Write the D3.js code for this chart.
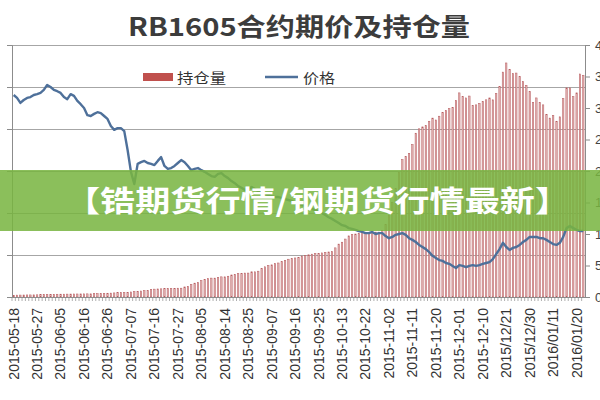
<!DOCTYPE html>
<html>
<head>
<meta charset="utf-8">
<script src="https://cdn.jsdelivr.net/npm/d3@7"></script>
<style>
  html, body { margin: 0; padding: 0; background: #fff; }
  svg { display: block; }
</style>
</head>
<body>
<svg id="chart" width="600" height="400"></svg>
<script>
const titleText = "RB1605合约期价及持仓量";
const bannerText = "【锆期货行情/钢期货行情最新】";
const seriesNames = ["持仓量", "价格"];

const dates = [
"2015-05-18","2015-05-19","2015-05-20","2015-05-21","2015-05-22","2015-05-25","2015-05-26","2015-05-27","2015-05-28","2015-05-29",
"2015-06-01","2015-06-02","2015-06-03","2015-06-04","2015-06-05","2015-06-08","2015-06-09","2015-06-10","2015-06-11","2015-06-12",
"2015-06-15","2015-06-16","2015-06-17","2015-06-18","2015-06-19","2015-06-23","2015-06-24","2015-06-25","2015-06-26","2015-06-29","2015-06-30",
"2015-07-01","2015-07-02","2015-07-03","2015-07-06","2015-07-07","2015-07-08","2015-07-09","2015-07-10","2015-07-13","2015-07-14",
"2015-07-15","2015-07-16","2015-07-17","2015-07-20","2015-07-21","2015-07-22","2015-07-23","2015-07-24","2015-07-27","2015-07-28",
"2015-07-29","2015-07-30","2015-07-31",
"2015-08-03","2015-08-04","2015-08-05","2015-08-06","2015-08-07","2015-08-10","2015-08-11","2015-08-12","2015-08-13","2015-08-14",
"2015-08-17","2015-08-18","2015-08-19","2015-08-20","2015-08-21","2015-08-24","2015-08-25","2015-08-26","2015-08-27","2015-08-28","2015-08-31",
"2015-09-01","2015-09-02","2015-09-07","2015-09-08","2015-09-09","2015-09-10","2015-09-11","2015-09-14","2015-09-15","2015-09-16",
"2015-09-17","2015-09-18","2015-09-21","2015-09-22","2015-09-23","2015-09-24","2015-09-25","2015-09-28","2015-09-29","2015-09-30",
"2015-10-08","2015-10-09","2015-10-12","2015-10-13","2015-10-14","2015-10-15","2015-10-16","2015-10-19","2015-10-20","2015-10-21",
"2015-10-22","2015-10-23","2015-10-26","2015-10-27","2015-10-28","2015-10-29","2015-10-30",
"2015-11-02","2015-11-03","2015-11-04","2015-11-05","2015-11-06","2015-11-09","2015-11-10","2015-11-11","2015-11-12","2015-11-13",
"2015-11-16","2015-11-17","2015-11-18","2015-11-19","2015-11-20","2015-11-23","2015-11-24","2015-11-25","2015-11-26","2015-11-27","2015-11-30",
"2015-12-01","2015-12-02","2015-12-03","2015-12-04","2015-12-07","2015-12-08","2015-12-09","2015-12-10","2015-12-11","2015-12-14",
"2015-12-15","2015-12-16","2015-12-17","2015-12-18",
"2015/12/21","2015/12/22","2015/12/23","2015/12/24","2015/12/25","2015/12/28","2015/12/29","2015/12/30","2015/12/31",
"2016/01/04","2016/01/05","2016/01/06","2016/01/07","2016/01/08","2016/01/11","2016/01/12","2016/01/13","2016/01/14","2016/01/15",
"2016/01/18","2016/01/19","2016/01/20","2016/01/21","2016/01/22"
];

const price = [
2081,2074,2062,2069,2074,2076,2081,2083,2086,2093,
2105,2100,2093,2090,2086,2076,2071,2083,2079,2067,
2059,2050,2033,2031,2036,2040,2038,2031,2024,2007,
1998,2002,2002,1995,1950,1898,1869,1917,1921,1924,
1919,1917,1914,1924,1933,1912,1905,1907,1912,1919,
1926,1921,1912,1902,1905,1907,1902,1898,1893,1888,
1886,1893,1895,1888,1883,1876,1871,1864,1860,1855,
1857,1862,1857,1852,1848,1845,1843,1840,1838,1838,
1836,1833,1831,1829,1824,1819,1819,1817,1812,1810,
1807,1805,1800,1795,1790,1786,1781,1776,1771,1769,
1764,1762,1760,1757,1755,1752,1752,1755,1750,1752,
1752,1745,1740,1743,1748,1750,1752,1748,1740,1736,
1731,1724,1719,1714,1707,1698,1693,1688,1686,1681,
1679,1674,1669,1676,1674,1671,1674,1676,1674,1676,
1679,1681,1683,1690,1702,1714,1729,1719,1712,1717,
1719,1724,1731,1736,1743,1743,1743,1740,1740,1736,
1731,1726,1724,1729,1743,1764,1769,1764,1760,1757,
1757
];

const openInterest = [
28000,30000,31000,32000,33000,33000,34000,35000,38000,40000,
40000,42000,43000,44000,45000,45000,46000,47000,48000,48000,
49000,50000,50000,50000,52000,53000,55000,58000,60000,62000,
65000,68000,70000,72000,75000,80000,85000,90000,95000,100000,
100000,120000,125000,128000,130000,132000,135000,136000,138000,140000,
140000,160000,170000,200000,220000,230000,260000,280000,290000,300000,
300000,310000,320000,320000,330000,350000,360000,370000,370000,380000,
380000,400000,400000,410000,450000,480000,500000,510000,530000,540000,
560000,580000,600000,610000,620000,630000,650000,660000,670000,680000,
690000,690000,700000,710000,715000,720000,780000,840000,870000,920000,
970000,990000,1000000,1010000,1020000,1010000,1020000,1020000,1030000,1030000,
1060000,1150000,1300000,1500000,1720000,1980000,2180000,2230000,2280000,2420000,
2600000,2670000,2700000,2720000,2790000,2840000,2810000,2870000,2930000,2960000,
2990000,3010000,3120000,3240000,3180000,3160000,3190000,3040000,3050000,3075000,
3105000,3130000,3160000,3130000,3230000,3340000,3570000,3715000,3610000,3545000,
3555000,3500000,3420000,3360000,3260000,3090000,3160000,3085000,3050000,2900000,
2840000,2880000,2790000,2860000,3150000,3320000,3320000,3180000,3240000,3540000,
3520000
];

const priceTicks = [1600,1700,1800,1900,2000,2100,2200];
const oiTicks = [0,500000,1000000,1500000,2000000,2500000,3000000,3500000,4000000];
const labelEvery = 7;

(function () {
const svg = d3.select("#chart");
const pLeft = 12, pRight = 585, pTop = 45, pBottom = 297;

const x = d3.scaleBand().domain(dates).range([pLeft, pRight]).padding(0);
const yL = d3.scaleLinear().domain([1600, 2200]).range([pBottom, pTop]);
const yR = d3.scaleLinear().domain([0, 4000000]).range([pBottom, pTop]);

// title
svg.append("text")
  .attr("x", 128).attr("y", 36)
  .attr("textLength", 342).attr("lengthAdjust", "spacingAndGlyphs")
  .attr("font-family", "'Noto Sans CJK SC', 'Noto Sans', sans-serif")
  .attr("font-size", 25).attr("font-weight", "bold")
  .attr("fill", "#3c3c3c")
  .text(titleText);

// gridlines
svg.append("g").selectAll("line").data(priceTicks).join("line")
  .attr("x1", pLeft).attr("x2", pRight)
  .attr("y1", d => Math.round(yL(d)) + 0.5).attr("y2", d => Math.round(yL(d)) + 0.5)
  .attr("stroke", "#a6a6a6").attr("stroke-width", 1.2);

// bars
const bw = 1.4;
svg.append("g").selectAll("rect").data(dates).join("rect")
  .attr("x", (d) => x(d) + x.bandwidth() / 2 - bw / 2)
  .attr("width", bw)
  .attr("y", (d, i) => yR(openInterest[i]))
  .attr("height", (d, i) => pBottom - yR(openInterest[i]))
  .attr("fill", "#e2b4b4")
  .attr("stroke", "#b5575a").attr("stroke-width", 0.5);

// price line
const line = d3.line()
  .x((d, i) => x(dates[i]) + x.bandwidth() / 2)
  .y(d => yL(d));
svg.append("path").datum(price)
  .attr("d", line)
  .attr("fill", "none")
  .attr("stroke", "#4e709a").attr("stroke-width", 2.4)
  .attr("stroke-linejoin", "round");

// left axis (labels fall outside the picture in the reference)
const gL = svg.append("g").attr("transform", `translate(${pLeft},0)`)
  .call(d3.axisLeft(yL).tickValues(priceTicks).tickSize(5).tickFormat(""));
gL.select(".domain").attr("stroke", "#8c8c8c");
gL.selectAll(".tick line").attr("stroke", "#8c8c8c");

// right axis (labels run off the picture's right edge, as in the reference)
const gR = svg.append("g").attr("transform", `translate(${pRight},0)`)
  .call(d3.axisRight(yR).tickValues(oiTicks).tickSize(5).tickPadding(5).tickFormat(d3.format("d")));
gR.select(".domain").attr("stroke", "#8c8c8c");
gR.selectAll(".tick line").attr("stroke", "#8c8c8c");
gR.selectAll(".tick text")
  .attr("font-family", "'Liberation Sans', Arial, sans-serif")
  .attr("font-size", 13).attr("fill", "#444");

// bottom axis
const gB = svg.append("g").attr("transform", `translate(0,${pBottom})`);
gB.append("line").attr("x1", pLeft).attr("x2", pRight).attr("y1", 0.5).attr("y2", 0.5)
  .attr("stroke", "#8c8c8c");
gB.selectAll("line.minor").data(dates).join("line").attr("class", "minor")
  .attr("x1", d => x(d)).attr("x2", d => x(d))
  .attr("y1", 0).attr("y2", 4)
  .attr("stroke", "#8c8c8c").attr("stroke-width", 0.7);
gB.selectAll("text").data(dates.filter((d, i) => i % labelEvery === 0)).join("text")
  .attr("transform", d => `translate(${x(d) + x.bandwidth() / 2},11) rotate(-90)`)
  .attr("text-anchor", "end")
  .attr("dy", "0.35em")
  .attr("font-family", "'Liberation Sans', Arial, sans-serif")
  .attr("font-size", 14).attr("fill", "#333")
  .text(d => d);

// legend
const lg = svg.append("g");
lg.append("rect").attr("x", 143).attr("y", 73).attr("width", 30).attr("height", 8).attr("fill", "#c0504d");
lg.append("text").attr("x", 177).attr("y", 83)
  .attr("textLength", 49).attr("lengthAdjust", "spacingAndGlyphs")
  .attr("font-family", "'Noto Sans CJK SC', sans-serif").attr("font-size", 14).attr("fill", "#333")
  .text(seriesNames[0]);
lg.append("line").attr("x1", 265).attr("x2", 298).attr("y1", 77).attr("y2", 77)
  .attr("stroke", "#4e709a").attr("stroke-width", 2.4);
lg.append("text").attr("x", 303).attr("y", 83)
  .attr("textLength", 32).attr("lengthAdjust", "spacingAndGlyphs")
  .attr("font-family", "'Noto Sans CJK SC', sans-serif").attr("font-size", 14).attr("fill", "#333")
  .text(seriesNames[1]);

// banner overlay
svg.append("rect").attr("x", 0).attr("y", 170).attr("width", 600).attr("height", 61)
  .attr("fill", "#78b440").attr("fill-opacity", 0.86);
svg.append("text")
  .attr("x", 65).attr("y", 212)
  .attr("textLength", 505).attr("lengthAdjust", "spacingAndGlyphs")
  .attr("font-family", "'Noto Sans CJK SC', sans-serif")
  .attr("font-size", 29).attr("font-weight", "bold")
  .attr("fill", "#ffffff")
  .text(bannerText);
})();
</script>
</body>
</html>
